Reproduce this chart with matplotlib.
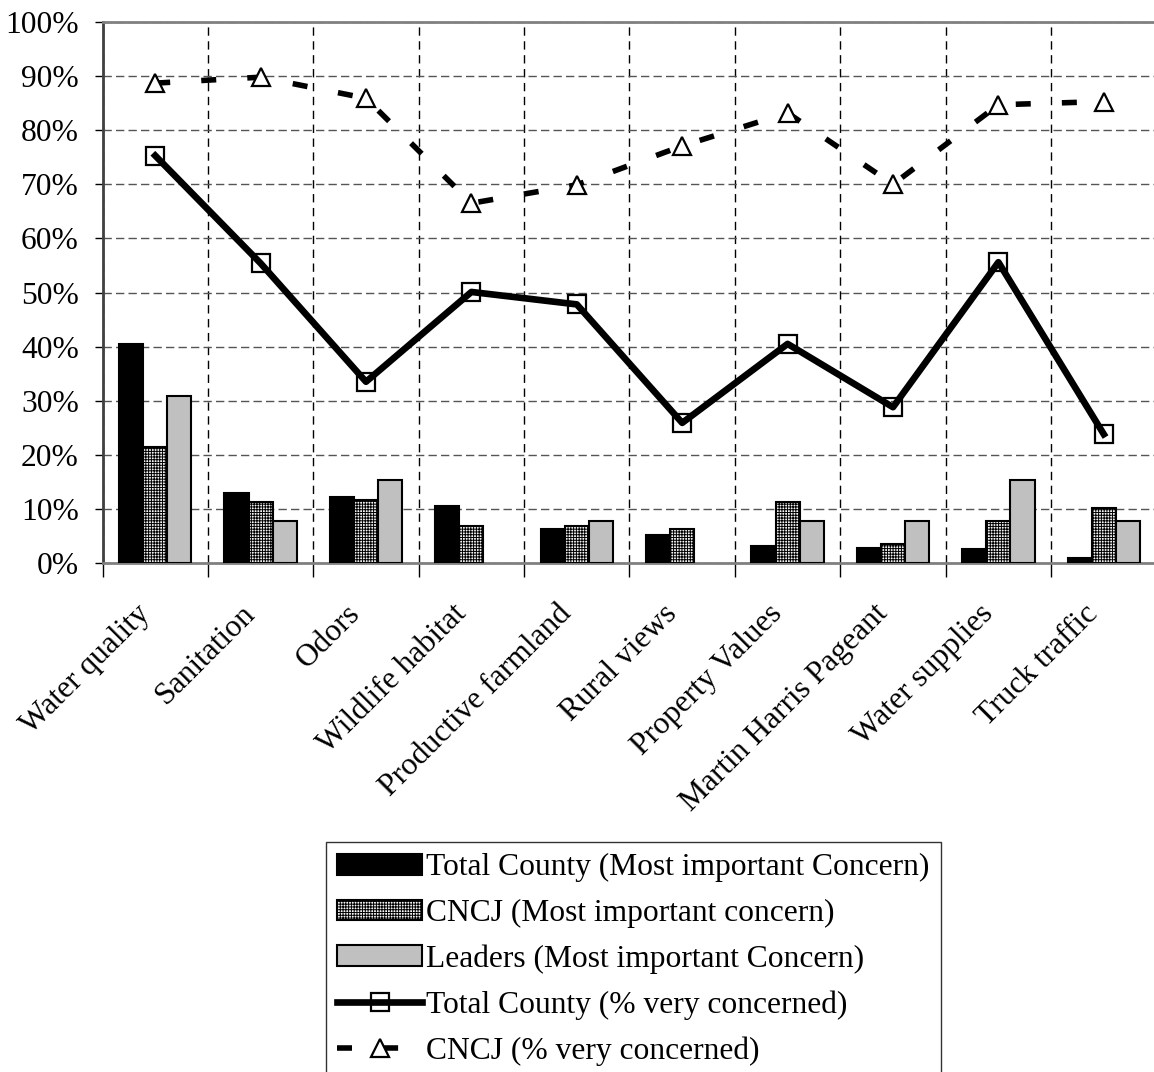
import numpy as np
import matplotlib
matplotlib.use("Agg")
import matplotlib.pyplot as plt
from matplotlib.ticker import MultipleLocator, PercentFormatter
from matplotlib.transforms import ScaledTranslation

plt.rcParams["font.family"] = ["Liberation Serif", "DejaVu Serif"]
plt.rcParams["hatch.color"] = "#a0a0a0"
plt.rcParams["hatch.linewidth"] = 0.7

categories = ["Water quality", "Sanitation", "Odors", "Wildlife habitat",
              "Productive farmland", "Rural views", "Property Values",
              "Martin Harris Pageant", "Water supplies", "Truck traffic"]

# bars: share naming the item as most important concern (%)
tc_most = [40.5, 13.0, 12.2, 10.6, 6.2, 5.2, 3.2, 2.8, 2.5, 1.0]
cncj_most = [21.5, 11.2, 11.7, 6.9, 6.9, 6.3, 11.2, 3.5, 7.8, 10.2]
leaders_most = [30.8, 7.7, 15.4, 0.0, 7.7, 0.0, 7.7, 7.7, 15.4, 7.7]

# lines: % very concerned
tc_very = [75.3, 55.4, 33.5, 50.1, 47.8, 25.9, 40.5, 28.8, 55.6, 23.8]
cncj_very = [88.7, 89.8, 85.9, 66.5, 69.9, 77.1, 83.2, 70.0, 84.7, 85.3]

labels = ["Total County (Most important Concern)",
          "CNCJ (Most important concern)",
          "Leaders (Most important Concern)",
          "Total County (% very concerned)",
          "CNCJ (% very concerned)"]

FS = 22.7
W, H = 1154, 1072
fig = plt.figure(figsize=(W / 100, H / 100), dpi=100)
ax = fig.add_axes([102.5 / W, 1 - 563 / H, 1054 / W, 541 / H])

x = np.arange(len(categories))
bw = 0.229


def bars(offset, values, **kw):
    # zero values are left out, as in the original
    vals = np.array(values)
    keep = vals > 0
    return ax.bar(x[keep] + offset, vals[keep], width=bw, edgecolor="black",
                  linewidth=1.5, zorder=3, **kw)


b1 = bars(-bw, tc_most, color="black", label=labels[0])
b2 = bars(0, cncj_most, color="#f4f4f4", hatch="++++++", label=labels[1])
b3 = bars(bw, leaders_most, color="#c0c0c0", label=labels[2])

l1, = ax.plot(x, tc_very, color="black", linewidth=4.8, marker="s",
              markersize=12.5, markerfacecolor="none", markeredgecolor="black",
              markeredgewidth=1.6, solid_joinstyle="round", label=labels[3],
              zorder=5)
l2, = ax.plot(x, cncj_very, color="black", linewidth=4.0,
              linestyle=(0, (2.7, 5.6)), dash_capstyle="butt", marker="^",
              markersize=13, markerfacecolor="white", markeredgecolor="black",
              markeredgewidth=1.6, label=labels[4], zorder=5)

ax.set_xlim(-0.5, len(categories) - 0.5)
ax.set_ylim(0, 100)
ax.yaxis.set_major_locator(MultipleLocator(10))
ax.yaxis.set_major_formatter(PercentFormatter(decimals=0))

# labels at category centres, tick marks and grid at boundaries
ax.set_xticks(x)
ax.set_xticklabels(categories)
ax.set_xticks(np.arange(len(categories) + 1) - 0.5, minor=True)
ax.tick_params(axis="x", which="major", length=0, pad=26, labelsize=FS)
ax.tick_params(axis="x", which="minor", length=10, width=1, color="black",
               direction="out")
ax.tick_params(axis="y", length=6, width=1, direction="out", pad=11,
               labelsize=FS)
shift = ScaledTranslation(-20 / 100, 0, fig.dpi_scale_trans)
for lab in ax.get_xticklabels():
    lab.set_rotation(45)
    lab.set_ha("right")
    lab.set_va("top")
    lab.set_rotation_mode("anchor")
    lab.set_transform(lab.get_transform() + shift)

ax.grid(True, axis="y", which="major", color="#555555", linestyle=(0, (6, 3)),
        linewidth=1, zorder=0)
ax.grid(True, axis="x", which="minor", color="black", linestyle=(0, (6, 4)),
        linewidth=1, zorder=0)
ax.grid(False, axis="x", which="major")
ax.set_axisbelow(True)

for side in ["top", "bottom"]:
    ax.spines[side].set_color("#808080")
    ax.spines[side].set_linewidth(2)
ax.spines["left"].set_color("#404040")
ax.spines["left"].set_linewidth(2)
ax.spines["right"].set_visible(False)

leg = fig.legend([b1, b2, b3, l1, l2], labels, loc="upper left",
                 bbox_to_anchor=(326 / W, 1 - 842 / H),
                 fontsize=FS, frameon=True, fancybox=False, framealpha=1,
                 edgecolor="#333333", handlelength=2.7, handleheight=0.63,
                 handletextpad=0.12, labelspacing=0.52, borderpad=0.36,
                 borderaxespad=0)
leg.get_frame().set_linewidth(1)

fig.savefig("out.png", dpi=100)
